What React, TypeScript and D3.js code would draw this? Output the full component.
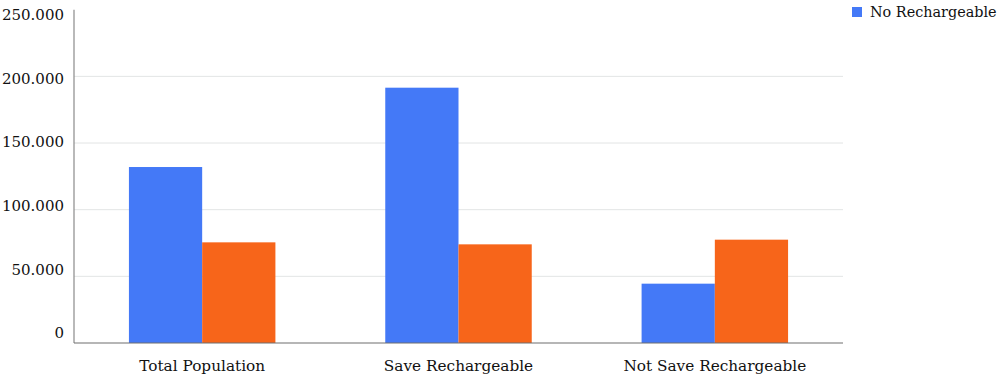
import React, { useRef, useEffect } from 'react';
import * as d3 from 'd3';

const categories = ['Total Population', 'Save Rechargeable', 'Not Save Rechargeable'];
const seriesNames = ['No Rechargeable', 'Rechargeable'];
const noRechargeable = [132000, 191500, 44500];
const rechargeable = [75500, 74000, 77500];
const yTicks = [0, 50000, 100000, 150000, 200000, 250000];

const COLORS = ['#4479F7', '#F7651A'];
const FONT = '"DejaVu Serif", serif';

const App = () => {
    const ref = useRef<SVGSVGElement>(null);

    useEffect(() => {
        document.body.style.margin = '0';
        const svg = d3.select(ref.current);
        svg.selectAll('*').remove();

        const left = 74, right = 843, top = 9.7, bottom = 343;

        const x0 = d3.scaleBand().domain(categories).range([left, right]).padding(0);
        const x1 = d3.scaleBand().domain(seriesNames)
            .range([0, x0.bandwidth()]).paddingInner(0).paddingOuter(0.75);
        const y = d3.scaleLinear().domain([0, 250000]).range([bottom, top]);
        // tick labels sit on a slightly tighter spacing than the grid
        const yLabel = d3.scaleLinear().domain([0, 250000]).range([333, 15]);

        // grid lines
        svg.append('g')
            .selectAll('line')
            .data(yTicks.filter(t => t > 0 && t < 250000))
            .enter()
            .append('line')
            .attr('x1', left).attr('x2', right)
            .attr('y1', d => y(d)).attr('y2', d => y(d))
            .attr('stroke', '#e2e5e5').attr('stroke-width', 1);

        // bars
        const data = categories.map((c, i) => ({ c, values: [noRechargeable[i], rechargeable[i]] }));
        const groups = svg.append('g')
            .selectAll('g')
            .data(data)
            .enter()
            .append('g')
            .attr('transform', d => `translate(${x0(d.c)},0)`);
        groups.selectAll('rect')
            .data(d => d.values.map((v, k) => ({ k, v })))
            .enter()
            .append('rect')
            .attr('x', d => x1(seriesNames[d.k])!)
            .attr('width', x1.bandwidth())
            .attr('y', d => y(d.v))
            .attr('height', d => bottom - y(d.v))
            .attr('fill', d => COLORS[d.k]);

        // axes lines
        svg.append('line')
            .attr('x1', left).attr('x2', left)
            .attr('y1', top).attr('y2', bottom)
            .attr('stroke', '#8a8a8a').attr('stroke-width', 1.2);
        svg.append('line')
            .attr('x1', left).attr('x2', right)
            .attr('y1', bottom).attr('y2', bottom)
            .attr('stroke', '#6e6e6e').attr('stroke-width', 1.2);

        // y labels
        svg.append('g')
            .selectAll('text')
            .data(yTicks)
            .enter()
            .append('text')
            .attr('x', 64)
            .attr('y', d => yLabel(d))
            .attr('dy', '0.35em')
            .attr('text-anchor', 'end')
            .attr('font-family', FONT)
            .attr('font-size', 15)
            .attr('fill', '#111')
            .text(d => d3.format(',')(d).replace(/,/g, '.'));

        // x labels
        svg.append('g')
            .selectAll('text')
            .data(categories)
            .enter()
            .append('text')
            .attr('x', d => x0(d)! + x0.bandwidth() / 2)
            .attr('y', 371)
            .attr('text-anchor', 'middle')
            .attr('font-family', FONT)
            .attr('font-size', 15.3)
            .attr('fill', '#111')
            .text(d => d);

        // legend
        const legend = svg.append('g');
        legend.append('rect')
            .attr('x', 852).attr('y', 7)
            .attr('width', 10).attr('height', 10)
            .attr('fill', COLORS[0]);
        legend.append('text')
            .attr('x', 870).attr('y', 12)
            .attr('dy', '0.35em')
            .attr('font-family', FONT)
            .attr('font-size', 14.4)
            .attr('fill', '#111')
            .text(seriesNames[0]);
    }, []);

    return <svg ref={ref} width={1000} height={385} style={{ display: 'block' }}></svg>;
};

export default App;
